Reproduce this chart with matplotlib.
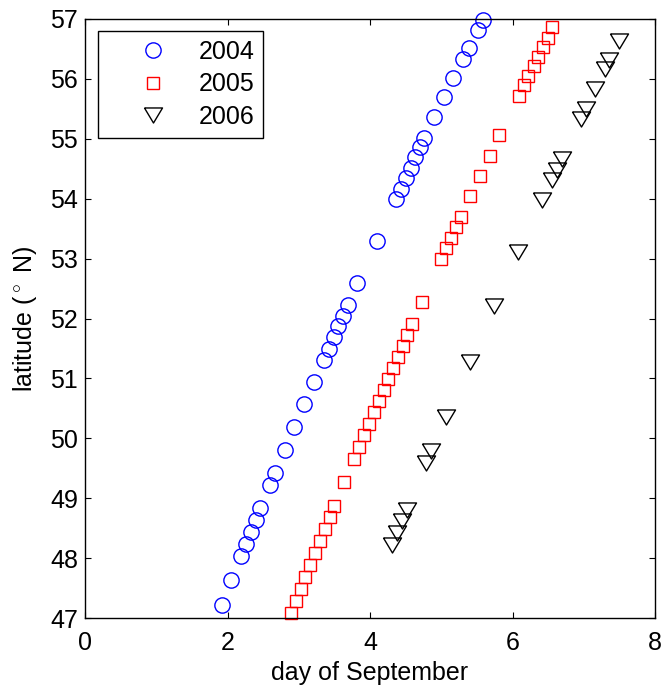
import numpy as np
import matplotlib
matplotlib.use("Agg")
import matplotlib.pyplot as plt

plt.rcParams['font.family'] = ['Liberation Sans', 'DejaVu Sans']
plt.rcParams['mathtext.fontset'] = 'custom'
plt.rcParams['mathtext.rm'] = 'Liberation Sans'

# day of September / latitude
day_2004 = [1.92, 2.05, 2.19, 2.26, 2.33, 2.40, 2.46, 2.60, 2.67, 2.80, 2.94, 3.07,
            3.21, 3.35, 3.42, 3.49, 3.55, 3.62, 3.69, 3.82, 4.10, 4.37, 4.43, 4.50,
            4.57, 4.63, 4.70, 4.76, 4.90, 5.04, 5.17, 5.31, 5.39, 5.52, 5.59]
lat_2004 = [47.22, 47.63, 48.04, 48.23, 48.43, 48.63, 48.83, 49.22, 49.42, 49.80,
            50.19, 50.57, 50.94, 51.30, 51.49, 51.69, 51.87, 52.05, 52.23, 52.59,
            53.30, 53.99, 54.16, 54.34, 54.51, 54.69, 54.86, 55.02, 55.36, 55.69,
            56.02, 56.33, 56.51, 56.82, 56.98]

day_2005 = [2.89, 2.96, 3.03, 3.09, 3.16, 3.23, 3.30, 3.37, 3.44, 3.50, 3.64, 3.77,
            3.84, 3.91, 3.98, 4.05, 4.12, 4.19, 4.25, 4.32, 4.39, 4.46, 4.52, 4.59,
            4.73, 5.00, 5.07, 5.14, 5.20, 5.28, 5.41, 5.54, 5.68, 5.81, 6.09, 6.16,
            6.22, 6.30, 6.36, 6.43, 6.50, 6.56]
lat_2005 = [47.08, 47.28, 47.48, 47.69, 47.88, 48.09, 48.28, 48.48, 48.68, 48.87,
            49.27, 49.66, 49.86, 50.05, 50.24, 50.44, 50.62, 50.81, 50.99, 51.17,
            51.36, 51.54, 51.73, 51.91, 52.27, 52.99, 53.17, 53.35, 53.52, 53.69,
            54.04, 54.38, 54.72, 55.06, 55.72, 55.90, 56.05, 56.22, 56.37, 56.53,
            56.69, 56.86]

day_2006 = [4.31, 4.38, 4.45, 4.52, 4.79, 4.85, 5.06, 5.40, 5.74, 6.08, 6.42, 6.56,
            6.62, 6.69, 6.96, 7.03, 7.16, 7.30, 7.36, 7.50]
lat_2006 = [48.22, 48.42, 48.62, 48.81, 49.58, 49.79, 50.36, 51.28, 52.21, 53.11,
            53.97, 54.32, 54.48, 54.66, 55.33, 55.50, 55.83, 56.16, 56.31, 56.63]

years = ['2004', '2005', '2006']

# wide MATLAB-style down triangle
tri = [(-1.2, 1), (1.2, 1), (0, -1), (-1.2, 1)]

fig = plt.figure(figsize=(6.64, 6.86), dpi=100)
ax = fig.add_axes([85/664, 68/686, 570/664, 599/686])

ax.plot(day_2004, lat_2004, 'o', mfc='none', mec=(0, 0, 1), mew=1.0, ms=11,
        label=years[0], clip_on=False)
ax.plot(day_2005, lat_2005, 's', mfc='none', mec=(1, 0, 0), mew=1.0, ms=9,
        label=years[1], clip_on=False)
ax.plot(day_2006, lat_2006, linestyle='none', marker=tri, mfc='none', mec='k',
        mew=1.0, ms=13, label=years[2], clip_on=False)

ax.set_xlim(0, 8)
ax.set_ylim(47, 57)
ax.set_xticks([0, 2, 4, 6, 8])
ax.set_yticks(np.arange(47, 58, 1))
ax.tick_params(direction='in', top=True, right=True, length=4, width=0.8,
               labelsize=18)
ax.tick_params(axis='x', pad=9)
ax.tick_params(axis='y', pad=5)
for s in ax.spines.values():
    s.set_linewidth(1.0)

ax.set_xlabel('day of September', fontsize=18, labelpad=5)
ax.set_ylabel(r'latitude ($^\circ$ N)', fontsize=18, labelpad=8)

leg = ax.legend(loc='upper left', bbox_to_anchor=(0.022, 0.98), fontsize=18,
                fancybox=False, framealpha=1, edgecolor='k',
                handlelength=3.7, handletextpad=0.0, labelspacing=0.35,
                borderpad=0.35, borderaxespad=0)
leg.get_frame().set_linewidth(1.0)

fig.savefig('out.png', dpi=100)
